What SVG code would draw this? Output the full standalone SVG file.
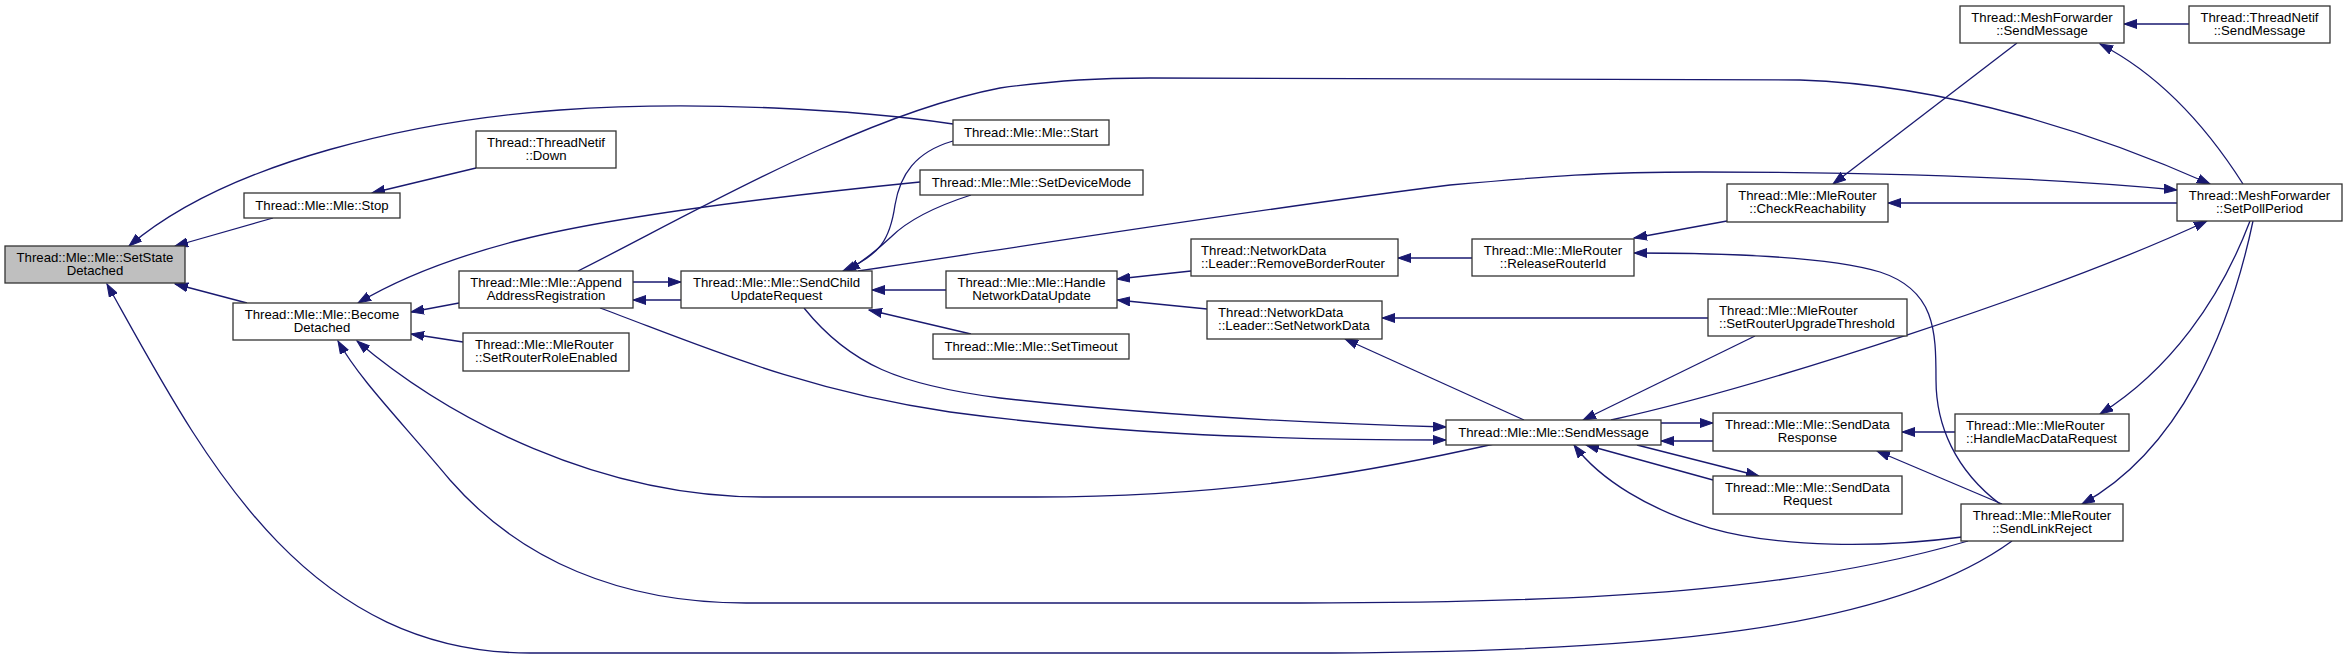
<svg xmlns="http://www.w3.org/2000/svg" width="2347" height="659" viewBox="0 0 2347 659">
<style>
.n rect{fill:#fff;stroke:#333;stroke-width:1.3}
.n.sel rect{fill:#bfbfbf}
.n text{font-family:"Liberation Sans",Arial,Helvetica,sans-serif;font-size:13.2px;fill:#000;text-anchor:middle}
.n text.l{text-anchor:start}
.e path{fill:none;stroke:#191970;stroke-width:1.3;marker-end:url(#ah)}
</style>
<defs>
<marker id="ah" markerWidth="14" markerHeight="10" refX="13" refY="5" orient="auto" markerUnits="userSpaceOnUse">
<path d="M0,0.5 L13,5 L0,9.5 z" fill="#191970" stroke="#191970" stroke-width="1"/>
</marker>
</defs>
<rect width="2347" height="659" fill="#fff"/>
<g id="edges" class="e">
<path d="M273,218 L175,246"/>
<path d="M953,124 C860,110 700,100 560,110 C420,120 230,160 129,246"/>
<path d="M247,303 L175,284"/>
<path d="M2012,541 C1890,630 1650,653 1300,653 L530,653 C300,653 200,450 107,284"/>
<path d="M476,168 L372,193"/>
<path d="M459,303 L411,312"/>
<path d="M463,342 L411,334"/>
<path d="M920,182 C780,196 620,215 520,240 C450,258 400,278 358,303"/>
<path d="M1494,444 C1400,465 1250,497 1036,497 L763,497 C600,497 450,420 357,341"/>
<path d="M1968,541 C1800,590 1600,603 1300,603 L746,603 C620,603 520,560 450,480 C400,420 360,380 338,341"/>
<path d="M578,271 C690,215 860,115 1000,88 C1060,80 1100,78 1150,78 L1800,80 C1950,85 2100,135 2210,184"/>
<path d="M858,271 C1000,250 1250,210 1450,185 C1550,176 1600,172 1700,172 C1900,172 2050,178 2177,190"/>
<path d="M2177,203 L1888,203"/>
<path d="M2017,43 L1833,184"/>
<path d="M2189,24 L2124,24"/>
<path d="M2243,184 C2215,140 2170,80 2100,44"/>
<path d="M2250,221 C2220,300 2170,370 2100,414"/>
<path d="M2253,221 C2230,330 2180,450 2082,504"/>
<path d="M1611,420 C1761,387 2057,291 2207,221"/>
<path d="M1661,423 L1713,423"/>
<path d="M1713,441 L1661,441"/>
<path d="M1637,445 L1759,476"/>
<path d="M1713,480 L1586,445"/>
<path d="M1962,537 C1880,548 1780,548 1710,528 C1650,510 1600,480 1574,445"/>
<path d="M2002,504 L1877,451"/>
<path d="M2000,504 C1955,470 1936,425 1936,380 C1936,330 1935,290 1880,272 C1830,257 1740,253 1634,253"/>
<path d="M1955,432 L1902,432"/>
<path d="M1524,420 L1345,339"/>
<path d="M1708,318 L1382,318"/>
<path d="M1755,336 L1583,420"/>
<path d="M1727,221 L1634,238"/>
<path d="M1472,258 L1398,258"/>
<path d="M1191,271 L1117,279"/>
<path d="M1207,309 L1117,300"/>
<path d="M946,290 L872,290"/>
<path d="M971,334 L869,310"/>
<path d="M953,141 C915,152 900,175 895,205 C890,240 880,255 843,271"/>
<path d="M971,195 C940,205 910,218 891,237 C875,252 865,260 847,271"/>
<path d="M633,282 L681,282"/>
<path d="M681,300 L633,300"/>
<path d="M600,308 C700,345 800,390 950,412 C1100,432 1250,440 1446,440"/>
<path d="M804,308 C850,365 900,385 1000,398 C1150,415 1300,423 1446,427"/>
</g>
<g id="n1" class="n sel"><rect x="5" y="246" width="180" height="37"/><text x="95" y="262">Thread::Mle::Mle::SetState</text><text x="95" y="275">Detached</text></g>
<g id="n2" class="n"><rect x="244" y="193" width="156" height="25"/><text x="322" y="210">Thread::Mle::Mle::Stop</text></g>
<g id="n3" class="n"><rect x="476" y="131" width="140" height="37"/><text x="546" y="147">Thread::ThreadNetif</text><text x="546" y="160">::Down</text></g>
<g id="n4" class="n"><rect x="233" y="303" width="178" height="37"/><text x="322" y="319">Thread::Mle::Mle::Become</text><text x="322" y="332">Detached</text></g>
<g id="n5" class="n"><rect x="459" y="271" width="174" height="37"/><text x="546" y="287">Thread::Mle::Mle::Append</text><text x="546" y="300">AddressRegistration</text></g>
<g id="n6" class="n"><rect x="463" y="333" width="166" height="38"/><text class="l" x="475" y="349">Thread::Mle::MleRouter</text><text class="l" x="475" y="362">::SetRouterRoleEnabled</text></g>
<g id="n7" class="n"><rect x="681" y="271" width="191" height="37"/><text x="776.5" y="287">Thread::Mle::Mle::SendChild</text><text x="776.5" y="300">UpdateRequest</text></g>
<g id="n8" class="n"><rect x="953" y="120" width="156" height="25"/><text x="1031" y="137">Thread::Mle::Mle::Start</text></g>
<g id="n9" class="n"><rect x="920" y="170" width="223" height="25"/><text x="1031.5" y="187">Thread::Mle::Mle::SetDeviceMode</text></g>
<g id="n10" class="n"><rect x="946" y="271" width="171" height="37"/><text x="1031.5" y="287">Thread::Mle::Mle::Handle</text><text x="1031.5" y="300">NetworkDataUpdate</text></g>
<g id="n11" class="n"><rect x="933" y="334" width="196" height="25"/><text x="1031" y="351">Thread::Mle::Mle::SetTimeout</text></g>
<g id="n12" class="n"><rect x="1191" y="239" width="207" height="37"/><text class="l" x="1201" y="255">Thread::NetworkData</text><text class="l" x="1201" y="268">::Leader::RemoveBorderRouter</text></g>
<g id="n13" class="n"><rect x="1207" y="301" width="175" height="38"/><text class="l" x="1218" y="317">Thread::NetworkData</text><text class="l" x="1218" y="330">::Leader::SetNetworkData</text></g>
<g id="n14" class="n"><rect x="1472" y="239" width="162" height="37"/><text x="1553" y="255">Thread::Mle::MleRouter</text><text x="1553" y="268">::ReleaseRouterId</text></g>
<g id="n15" class="n"><rect x="1727" y="184" width="161" height="38"/><text x="1807.5" y="200">Thread::Mle::MleRouter</text><text x="1807.5" y="213">::CheckReachability</text></g>
<g id="n16" class="n"><rect x="1708" y="299" width="199" height="37"/><text class="l" x="1719" y="315">Thread::Mle::MleRouter</text><text class="l" x="1719" y="328">::SetRouterUpgradeThreshold</text></g>
<g id="n17" class="n"><rect x="1446" y="420" width="215" height="25"/><text x="1553.5" y="437">Thread::Mle::Mle::SendMessage</text></g>
<g id="n18" class="n"><rect x="1713" y="413" width="189" height="38"/><text x="1807.5" y="429">Thread::Mle::Mle::SendData</text><text x="1807.5" y="442">Response</text></g>
<g id="n19" class="n"><rect x="1713" y="476" width="189" height="38"/><text x="1807.5" y="492">Thread::Mle::Mle::SendData</text><text x="1807.5" y="505">Request</text></g>
<g id="n20" class="n"><rect x="1955" y="414" width="174" height="37"/><text class="l" x="1966" y="430">Thread::Mle::MleRouter</text><text class="l" x="1966" y="443">::HandleMacDataRequest</text></g>
<g id="n21" class="n"><rect x="1961" y="504" width="162" height="37"/><text x="2042" y="520">Thread::Mle::MleRouter</text><text x="2042" y="533">::SendLinkReject</text></g>
<g id="n22" class="n"><rect x="1960" y="6" width="164" height="37"/><text x="2042" y="22">Thread::MeshForwarder</text><text x="2042" y="35">::SendMessage</text></g>
<g id="n23" class="n"><rect x="2189" y="6" width="141" height="37"/><text x="2259.5" y="22">Thread::ThreadNetif</text><text x="2259.5" y="35">::SendMessage</text></g>
<g id="n24" class="n"><rect x="2177" y="184" width="165" height="37"/><text x="2259.5" y="200">Thread::MeshForwarder</text><text x="2259.5" y="213">::SetPollPeriod</text></g>
</svg>
